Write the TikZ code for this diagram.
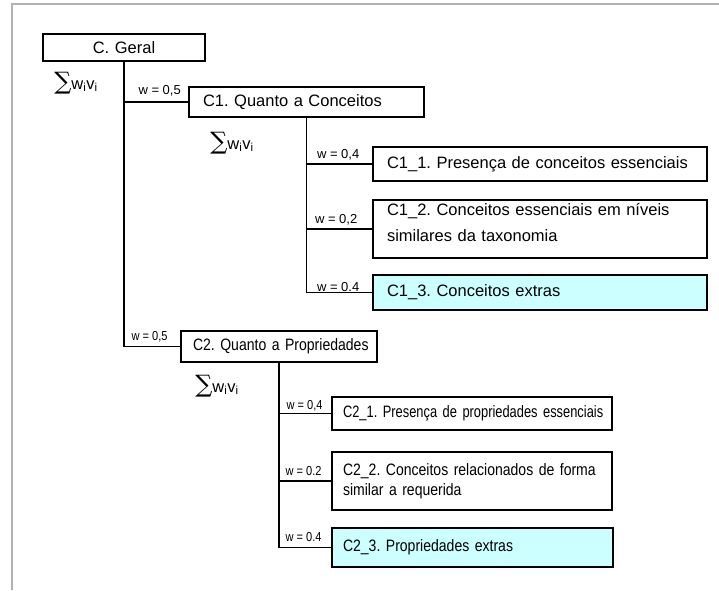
\documentclass[tikz,border=0pt]{standalone}
\usepackage{fontspec}
\setmainfont{Liberation Sans}
\newfontfamily\narrowfont[FakeStretch=0.85]{Liberation Sans}
\newfontfamily\narrowerfont[FakeStretch=0.78]{Liberation Sans}
\newfontfamily\sumfont{DejaVu Serif}
\newcommand{\wv}{{\sumfont\fontsize{24}{24}\selectfont ∑}w\textsubscript{i}v\textsubscript{i}}
\definecolor{extra}{RGB}{204,255,255}
\frenchspacing

\begin{document}
\begin{tikzpicture}[x=1pt,y=-1pt,
  box/.style={draw,rectangle,line width=1.1pt,inner xsep=14pt,inner ysep=0pt,align=left,
    font=\fontsize{16.5}{26}\selectfont},
  nbox/.style={box,inner xsep=11pt,font=\narrowfont\fontsize{16.5}{20}\selectfont},
  conn/.style={line width=1.1pt},
  wt/.style={anchor=west,inner sep=0pt,font=\fontsize{13}{13}\selectfont},
  nwt/.style={wt,font=\narrowfont\fontsize{13}{13}\selectfont},
  sig/.style={inner sep=0pt,font=\fontsize{16.5}{16.5}\selectfont}]
  \useasboundingbox (0,0) rectangle (719,590);
  \draw[gray!60,line width=2pt] (12,590) -- (12,4) -- (719,4);

  \node at (124,47.5) [box,align=center,text width=134pt,minimum height=27pt] (0) {C. Geral};
  \node at (76,83) [sig] (s0) {\wv};

  \node at (306.5,102) [box,text width=207pt,minimum height=30pt] (1) {C1. Quanto a Conceitos};
  \node at (232,143) [sig] (s1) {\wv};

  \node at (540,164) [box,text width=306pt,minimum height=34pt] (11) {C1\_1. Presença de conceitos essenciais};
  \node at (540,229) [box,text width=306pt,minimum height=58pt] (12) {C1\_2. Conceitos essenciais em níveis\\similares da taxonomia\\[-12pt]\mbox{}};
  \node at (540,292.5) [box,fill=extra,text width=306pt,minimum height=35pt] (13) {C1\_3. Conceitos extras};

  \node at (279,346.5) [nbox,inner xsep=12pt,text width=172pt,minimum height=31pt] (2) {\mbox{C2. Quanto a Propriedades}};
  \node at (217,386) [sig] (s2) {\wv};

  \node at (472,413.5) [nbox,text width=258pt,minimum height=33pt,font=\narrowerfont\fontsize{16.5}{20}\selectfont] (21) {\mbox{C2\_1. Presença de propriedades essenciais}};
  \node at (472,481) [nbox,text width=258pt,minimum height=58pt] (22) {\mbox{C2\_2. Conceitos relacionados de forma}\\similar a requerida};
  \node at (472.5,547.5) [nbox,fill=extra,text width=259pt,minimum height=39pt] (23) {C2\_3. Propriedades extras};

  \draw[conn] (0.south) |- node[wt,pos=.5,xshift=14pt,yshift=11pt] (w1) {w = 0,5} (1.west);
  \draw[conn] (0.south) |- node[nwt,pos=.5,xshift=7pt,yshift=10pt] (w2) {w = 0,5} (2.west);

  \draw[conn] (1.south) |- node[wt,pos=.5,xshift=10pt,yshift=9pt] (w11) {w = 0,4} (11.west);
  \draw[conn] (1.south) |- node[wt,pos=.5,xshift=8pt,yshift=9pt] (w12) {w = 0,2} (12.west);
  \draw[conn] (1.south) |- node[wt,pos=.5,xshift=10pt,yshift=5pt] (w13) {w = 0.4} (13.west);

  \draw[conn] (2.south) |- node[nwt,pos=.5,xshift=7pt,yshift=8pt] (w21) {w = 0,4} (21.west);
  \draw[conn] (2.south) |- node[nwt,pos=.5,xshift=6pt,yshift=10pt] (w22) {w = 0.2} (22.west);
  \draw[conn] (2.south) |- node[nwt,pos=.5,xshift=6pt,yshift=10pt] (w23) {w = 0.4} (23.west);
\end{tikzpicture}
\end{document}
